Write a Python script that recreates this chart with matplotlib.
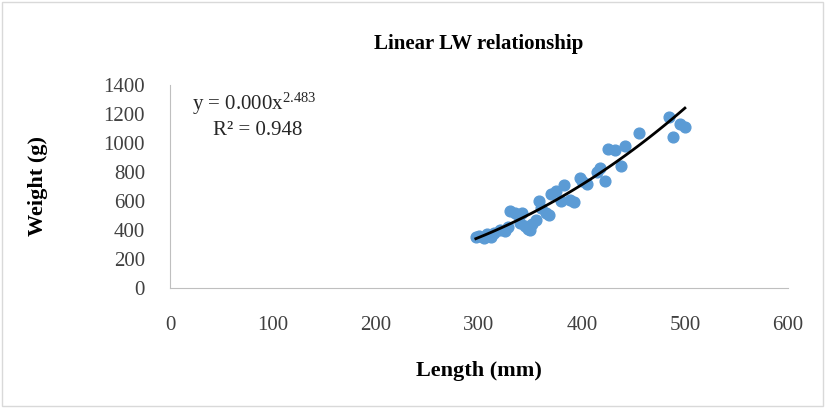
import numpy as np
import matplotlib.pyplot as plt

plt.rcParams['font.family'] = ['Liberation Serif', 'DejaVu Serif']
plt.rcParams['mathtext.fontset'] = 'custom'
plt.rcParams['mathtext.rm'] = 'Liberation Serif'
plt.rcParams['mathtext.it'] = 'Liberation Serif:italic'

length = [297, 300, 305, 308, 312, 315, 320, 325, 328, 330, 335, 338, 340, 342,
          345, 348, 350, 352, 355, 358, 360, 365, 368, 370, 375, 380, 383, 388,
          392, 398, 400, 405, 415, 418, 422, 425, 432, 438, 442, 455, 485, 488,
          495, 500]
weight = [350, 360, 345, 370, 355, 380, 400, 390, 420, 530, 520, 500, 450, 520,
          430, 410, 400, 440, 470, 600, 550, 520, 500, 650, 670, 600, 710, 610,
          590, 760, 740, 720, 800, 830, 740, 960, 950, 840, 980, 1070, 1180, 1040,
          1130, 1110]

expo = 2.483
coef = 1240 / 500 ** expo

fig = plt.figure(figsize=(8.25, 4.08), dpi=100)
fig.patches.append(plt.Rectangle((0.003, 0.005), 0.994, 0.99, transform=fig.transFigure,
                                 fill=False, edgecolor='#d9d9d9', linewidth=1))
ax = fig.add_axes([0.206, 0.294, 0.749, 0.498])

ax.scatter(length, weight, s=60, color='#5b9bd5', zorder=2)
xs = np.linspace(min(length), max(length), 100)
ax.plot(xs, coef * xs ** expo, color='black', linewidth=2, zorder=3)

ax.set_xlim(0, 600)
ax.set_ylim(0, 1400)
ax.set_xticks(range(0, 601, 100))
ax.set_yticks(range(0, 1401, 200))
for s in ['top', 'right']:
    ax.spines[s].set_visible(False)
for s in ['left', 'bottom']:
    ax.spines[s].set_color('#bfbfbf')
ax.tick_params(length=0, labelsize=15, labelcolor='#404040')
ax.tick_params(axis='x', pad=20)
ax.tick_params(axis='y', pad=18)

ax.set_title('Linear LW relationship', fontsize=15, fontweight='bold', pad=26)
ax.set_xlabel('Length (mm)', fontsize=16, fontweight='bold', labelpad=19)
ax.set_ylabel('Weight (g)', fontsize=16, fontweight='bold', labelpad=40)

ax.text(0.035, 0.905, 'y = 0.000x$^{2.483}$', transform=ax.transAxes, fontsize=15,
        color='#262626', va='center')
ax.text(0.07, 0.775, 'R² = 0.948', transform=ax.transAxes, fontsize=15,
        color='#262626', va='center')

plt.savefig('out.png', dpi=100)
